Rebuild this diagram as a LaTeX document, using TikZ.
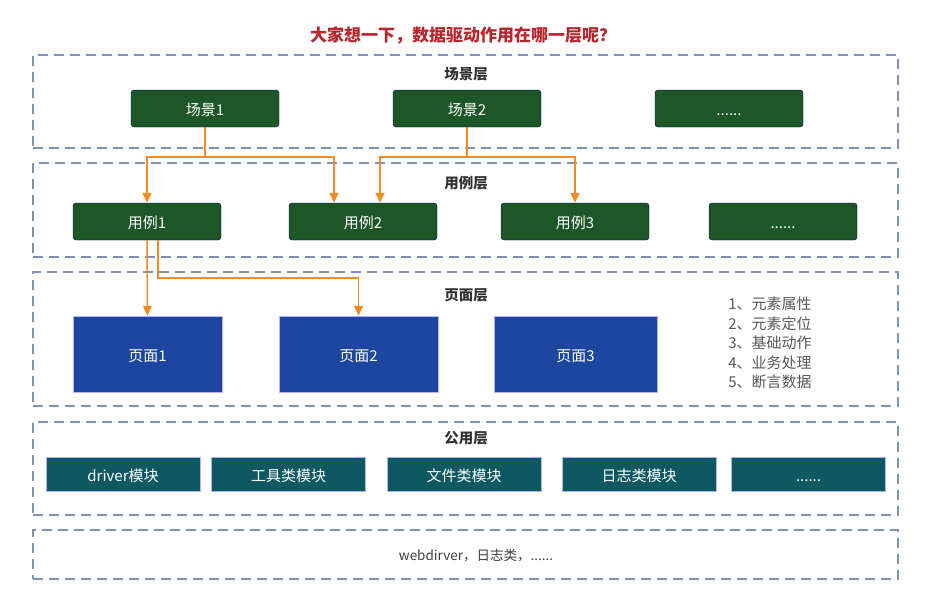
\documentclass[tikz,border=0pt]{standalone}
\usepackage{fontspec}
\setmainfont{Noto Sans CJK SC}
\usetikzlibrary{arrows.meta}

\definecolor{scenegreen}{HTML}{1D5627}
\definecolor{pageblue}{HTML}{1C46A0}
\definecolor{modteal}{HTML}{0E5862}
\definecolor{flowline}{HTML}{F28C28}
\definecolor{layerline}{HTML}{7D93B8}
\definecolor{asktitle}{HTML}{B8262B}

\newcommand{\moredots}{......}

\tikzset{
  layer/.style={draw=layerline, line width=1.6pt, dash pattern=on 10pt off 6pt,
    minimum width=865pt, inner sep=0pt},
  layername/.style={text=black!80, font=\fontsize{14.5}{16}\selectfont\bfseries},
  boxtext/.style={text=white, text height=14pt, text depth=0pt,
    font=\fontsize{15}{17}\selectfont},
  greenbox/.style={boxtext, fill=scenegreen, draw=black!60!blue, rounded corners=3pt,
    minimum width=148pt, minimum height=37pt, inner sep=0pt},
  pagebox/.style={boxtext, fill=pageblue, draw=blue!30, minimum height=76pt, inner sep=0pt},
  modbox/.style={boxtext, fill=modteal, draw=blue!30, minimum width=154pt, minimum height=34pt,
    inner sep=0pt},
  flow/.style={draw=flowline, line width=1.5pt, -{Triangle[width=9pt,length=10pt]}},
}

\begin{document}
\begin{tikzpicture}[x=1pt, y=-1pt]
		\useasboundingbox[fill=white] (0,0) rectangle (950,602);

		% Question on top
		\node[text=asktitle, font=\fontsize{17}{19}\selectfont\bfseries] (ask) at (463,35)
			{大家想一下，数据驱动作用在哪一层呢？};

		% Dashed layer frames
		\node[layer, minimum height=93pt] (scenelayer) at (465.5,101.5) {};
		\node[layer, minimum height=94pt] (caselayer) at (465.5,210) {};
		\node[layer, minimum height=134pt] (pagelayer) at (465.5,339) {};
		\node[layer, minimum height=93pt] (publayer) at (465.5,468.5) {};
		\node[layer, minimum height=49pt] (baselayer) at (465.5,554.5) {};

		% Layer names
		\node[layername] (scenename) at (466,74) {场景层};
		\node[layername] (casename) at (466,183) {用例层};
		\node[layername] (pagename) at (466,295) {页面层};
		\node[layername] (pubname) at (466,438) {公用层};

		% Scenes
		\node[greenbox] (s1) at (205,108.5) {场景1};
		\node[greenbox] (s2) at (467,108.5) {场景2};
		\node[greenbox] (s3) at (729,108.5) {\moredots};

		% Use cases
		\foreach \x/\name/\txt in {147/u1/用例1, 363/u2/用例2, 575/u3/用例3, 783/u4/\moredots} {
				\node[greenbox] (\name) at (\x,221.5) {\txt};
			}

		% Pages
		\node[pagebox, minimum width=149pt] (p1) at (147.5,354) {页面1};
		\node[pagebox, minimum width=159pt] (p2) at (358.5,354) {页面2};
		\node[pagebox, minimum width=163pt] (p3) at (575.5,354) {页面3};

		% What a page holds
		\node[text=black!65, align=left, font=\fontsize{15}{19.5}\selectfont] (pagenote)
			at (770,343) {1、元素属性\\2、元素定位\\3、基础动作\\4、业务处理\\5、断言数据};

		% Common modules
		\foreach \x/\name/\txt in {123/m1/driver模块, 288.5/m2/工具类模块, 464/m3/文件类模块,
				639/m4/日志类模块, 808.5/m5/\moredots} {
				\node[modbox] (\name) at (\x,474) {\txt};
			}

		% Base text
		\node[text=black!75, font=\fontsize{13.5}{15}\selectfont] (basetxt) at (476,556)
			{webdirver，日志类，\moredots};

		% Scene -> use case
		\coordinate (j1) at ([yshift=-30pt]s1.south);
		\coordinate (j2) at ([yshift=-30pt]s2.south);
		\draw[flow] (s1.south) -- (j1) -| (u1.north);
		\draw[flow] (j1) -| ([xshift=-29pt]u2.north);
		\draw[flow] (s2.south) -- (j2) -| ([xshift=17pt]u2.north);
		\draw[flow] (j2) -| (u3.north);

		% Use case -> page
		\coordinate (j3) at ([xshift=11pt, yshift=-38pt]u1.south);
		\draw[flow] (u1.south) -- (p1.north);
		\draw[flow] ([xshift=11pt]u1.south) -- (j3) -| (p2.north);
	\end{tikzpicture}
\end{document}
